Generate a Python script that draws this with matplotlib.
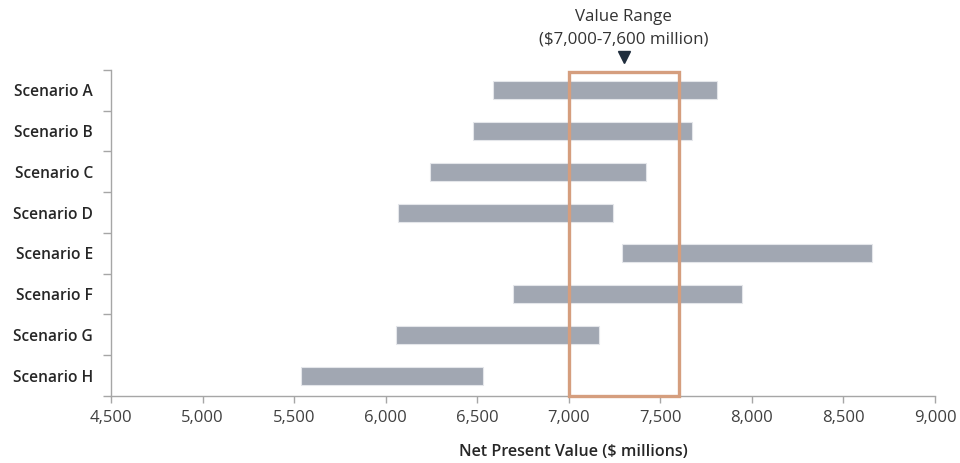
import matplotlib.pyplot as plt
import numpy as np

plt.rcParams['font.family'] = ['Open Sans', 'DejaVu Sans']

scenarios = ["Scenario A", "Scenario B", "Scenario C", "Scenario D",
             "Scenario E", "Scenario F", "Scenario G", "Scenario H"]
npv_low = [6585, 6475, 6240, 6065, 7290, 6695, 6055, 5535]
npv_high = [7810, 7675, 7420, 7240, 8655, 7945, 7165, 6530]

range_low, range_high = 7000, 7600
range_label = "Value Range\n($7,000-7,600 million)"

bar_color = "#A1A7B2"
box_color = "#D59E7E"
axis_color = "#A6A6A6"
text_color = "#404040"

fig = plt.figure(figsize=(9.6, 4.63), dpi=100)
ax = fig.add_axes([0.1156, 0.1447, 0.8584, 0.7043])

n = len(scenarios)
y = np.arange(n)[::-1]
widths = [h - l for l, h in zip(npv_low, npv_high)]
ax.barh(y, widths, left=npv_low, height=0.44, color=bar_color,
        edgecolor="#E4E6EA", linewidth=0.8, zorder=2)

# highlighted value range box
ax.add_patch(plt.Rectangle((range_low, -0.5), range_high - range_low, n - 0.05,
                           fill=False, edgecolor=box_color, linewidth=2.4,
                           zorder=3, clip_on=False))

ax.set_xlim(4500, 9000)
ax.set_ylim(-0.5, n - 0.5)
ax.set_xticks(np.arange(4500, 9001, 500))
ax.set_xticklabels([f"{v:,}" for v in range(4500, 9001, 500)])
ax.set_yticks(y)
ax.set_yticklabels(scenarios)
ax.set_yticks(np.arange(-0.5, n, 1.0), minor=True)

for side in ["top", "right"]:
    ax.spines[side].set_visible(False)
for side in ["left", "bottom"]:
    ax.spines[side].set_color(axis_color)
    ax.spines[side].set_linewidth(1.0)

ax.tick_params(axis="x", colors=axis_color, labelcolor=text_color,
               length=5, width=1, labelsize=12, pad=5)
ax.tick_params(axis="y", which="major", length=0, labelsize=11.2,
               labelcolor="#262626", pad=13)
ax.tick_params(axis="y", which="minor", length=6, width=1, colors=axis_color)
for lbl in ax.get_yticklabels():
    lbl.set_fontweight("semibold")

fig.text(573 / 960, 1 - 452 / 463, "Net Present Value ($ millions)",
         ha="center", va="center", fontsize=11.6, color="#262626",
         fontweight="semibold")

# marker and label above the range
mid = (range_low + range_high) / 2
ax.plot([mid], [n - 0.5 + 0.31], marker="v", markersize=9, color="#1F2D3D",
        clip_on=False, zorder=4)
ax.annotate(range_label, xy=(mid, n - 0.5), xytext=(0, 30),
            textcoords="offset points", ha="center", va="center",
            fontsize=12.2, color="#333333", linespacing=1.55,
            annotation_clip=False)

fig.savefig("out.png", dpi=100)
